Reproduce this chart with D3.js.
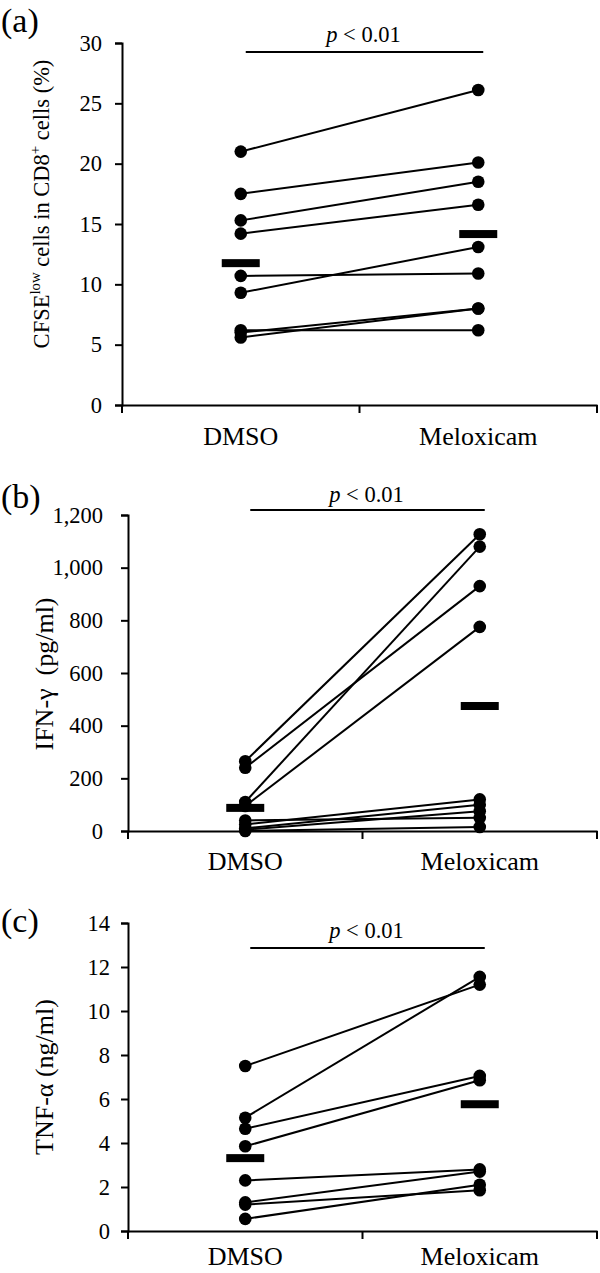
<!DOCTYPE html>
<html>
<head>
<meta charset="utf-8">
<script src="https://cdn.jsdelivr.net/npm/d3@7"></script>
<style>
  html, body { margin: 0; padding: 0; background: #fff; }
  svg { display: block; }
  text { font-family: "Liberation Serif", "Times New Roman", serif; fill: #000; }
</style>
</head>
<body>
<script>
// ---- data ----
const groups = ["DMSO", "Meloxicam"];

const cfseDMSO  = [21.0, 17.5, 15.3, 14.2, 10.7, 9.3, 6.2, 6.0, 5.6];
const cfseMelox = [26.1, 20.1, 18.5, 16.6, 10.9, 13.1, 6.2, 8.0, 8.0];
const cfseTicks = [0, 5, 10, 15, 20, 25, 30];

const ifnDMSO  = [265, 240, 110, 95, 40, 25, 10, 5, 0];
const ifnMelox = [1127, 930, 1080, 775, 50, 120, 100, 75, 15];
const ifnTicks = [0, 200, 400, 600, 800, 1000, 1200];

const tnfDMSO  = [7.5, 5.15, 4.65, 3.85, 2.3, 1.3, 1.2, 0.55];
const tnfMelox = [11.2, 11.55, 7.05, 6.85, 2.8, 2.7, 1.85, 2.1];
const tnfTicks = [0, 2, 4, 6, 8, 10, 12, 14];

const panelLabels = ["(a)", "(b)", "(c)"];
const pText = "< 0.01";

// ---- drawing ----
const W = 600, H = 1273;
const svg = d3.select("body").append("svg").attr("width", W).attr("height", H);
svg.append("rect").attr("width", W).attr("height", H).attr("fill", "#fff");

const panels = [
  { label: panelLabels[0], a: cfseDMSO, b: cfseMelox, ticks: cfseTicks, fmt: d3.format("d"),
    x0: 122, x1: 597, yTop: 43, yBot: 405, pad: 13, labelY: 20, xlabOff: 40,
    pLineY: 52, pTextY: 42, titleX: 41, titleY: 204, titleSize: 22.5, title: "cfse" },
  { label: panelLabels[1], a: ifnDMSO, b: ifnMelox, ticks: ifnTicks, fmt: d3.format(","),
    x0: 128, x1: 597, yTop: 515, yBot: 831, pad: 18, labelY: 496, xlabOff: 39,
    pLineY: 510, pTextY: 502, titleX: 44, titleY: 674, titleSize: 26, title: "IFN-γ  (pg/ml)" },
  { label: panelLabels[2], a: tnfDMSO, b: tnfMelox, ticks: tnfTicks, fmt: d3.format("d"),
    x0: 128, x1: 597, yTop: 923, yBot: 1231, pad: 11, labelY: 920, xlabOff: 34,
    pLineY: 948, pTextY: 938, titleX: 44, titleY: 1077, titleSize: 26, title: "TNF-α (ng/ml)" }
];

panels.forEach(p => {
  const g = svg.append("g");
  const x = d3.scaleBand().domain(groups).range([p.x0, p.x1]).padding(0);
  const y = d3.scaleLinear().domain([0, d3.max(p.ticks)]).range([p.yBot, p.yTop]);

  // panel label
  g.append("text").attr("x", 1).attr("y", p.labelY).attr("dy", "0.35em")
    .attr("font-size", 34).text(p.label);

  // y axis
  const ya = g.append("g").attr("transform", `translate(${p.x0},0)`)
    .call(d3.axisLeft(y).tickValues(p.ticks).tickFormat(p.fmt).tickSize(7).tickPadding(p.pad));
  ya.select(".domain").attr("stroke", "#000").attr("stroke-width", 2);
  ya.selectAll(".tick line").attr("stroke", "#000").attr("stroke-width", 2);
  ya.selectAll(".tick text").attr("font-size", 22.5).attr("font-family", "Liberation Serif");

  // x axis with boundary ticks
  const xa = g.append("g").attr("transform", `translate(0,${p.yBot})`)
    .call(d3.axisBottom(x).tickSize(0).tickPadding(0));
  xa.select(".domain").attr("stroke", "#000").attr("stroke-width", 2);
  xa.selectAll(".tick text").attr("font-size", 26).attr("font-family", "Liberation Serif")
    .attr("dy", 0).attr("y", p.xlabOff);
  const bounds = [p.x0, x("Meloxicam"), p.x1];
  xa.selectAll("line.bnd").data(bounds).join("line").attr("class", "bnd")
    .attr("x1", d => d).attr("x2", d => d).attr("y1", 0).attr("y2", 8)
    .attr("stroke", "#000").attr("stroke-width", 2);

  // y title
  const fs = p.titleSize, sup = fs * 0.66;
  const tt = g.append("text")
    .attr("transform", `translate(${p.titleX},${p.titleY}) rotate(-90)`)
    .attr("text-anchor", "middle").attr("dy", "0.35em").attr("font-size", fs)
    .style("white-space", "pre");
  if (p.title === "cfse") {
    tt.append("tspan").text("CFSE");
    tt.append("tspan").attr("font-size", sup).attr("dy", -fs * 0.38).text("low");
    tt.append("tspan").attr("dy", fs * 0.38).attr("font-size", fs).text(" cells in CD8");
    tt.append("tspan").attr("font-size", sup).attr("dy", -fs * 0.38).text("+");
    tt.append("tspan").attr("dy", fs * 0.38).attr("font-size", fs).text(" cells (%)");
  } else {
    tt.text(p.title);
  }

  // significance bracket
  const cx0 = x("DMSO") + x.bandwidth() / 2, cx1 = x("Meloxicam") + x.bandwidth() / 2;
  g.append("line").attr("x1", cx0 + 5).attr("x2", cx1 + 5)
    .attr("y1", p.pLineY).attr("y2", p.pLineY).attr("stroke", "#000").attr("stroke-width", 2);
  const pt = g.append("text").attr("x", (cx0 + cx1) / 2 + 4).attr("y", p.pTextY)
    .attr("text-anchor", "middle").attr("font-size", 22.5);
  pt.append("tspan").attr("font-style", "italic").text("p");
  pt.append("tspan").text(" " + pText);

  // paired lines
  const pairs = p.a.map((v, i) => [v, p.b[i]]);
  g.selectAll("line.pair").data(pairs).join("line").attr("class", "pair")
    .attr("x1", cx0).attr("x2", cx1)
    .attr("y1", d => y(d[0])).attr("y2", d => y(d[1]))
    .attr("stroke", "#000").attr("stroke-width", 2);

  // points
  const pts = [];
  p.a.forEach(v => pts.push([cx0, v]));
  p.b.forEach(v => pts.push([cx1, v]));
  g.selectAll("circle.pt").data(pts).join("circle").attr("class", "pt")
    .attr("cx", d => d[0]).attr("cy", d => y(d[1])).attr("r", 6.3).attr("fill", "#000");

  // mean bars
  const means = [[cx0, d3.mean(p.a)], [cx1, d3.mean(p.b)]];
  g.selectAll("rect.mean").data(means).join("rect").attr("class", "mean")
    .attr("x", d => d[0] - 19).attr("y", d => y(d[1]) - 4)
    .attr("width", 38).attr("height", 8).attr("fill", "#000");
});
</script>
</body>
</html>
